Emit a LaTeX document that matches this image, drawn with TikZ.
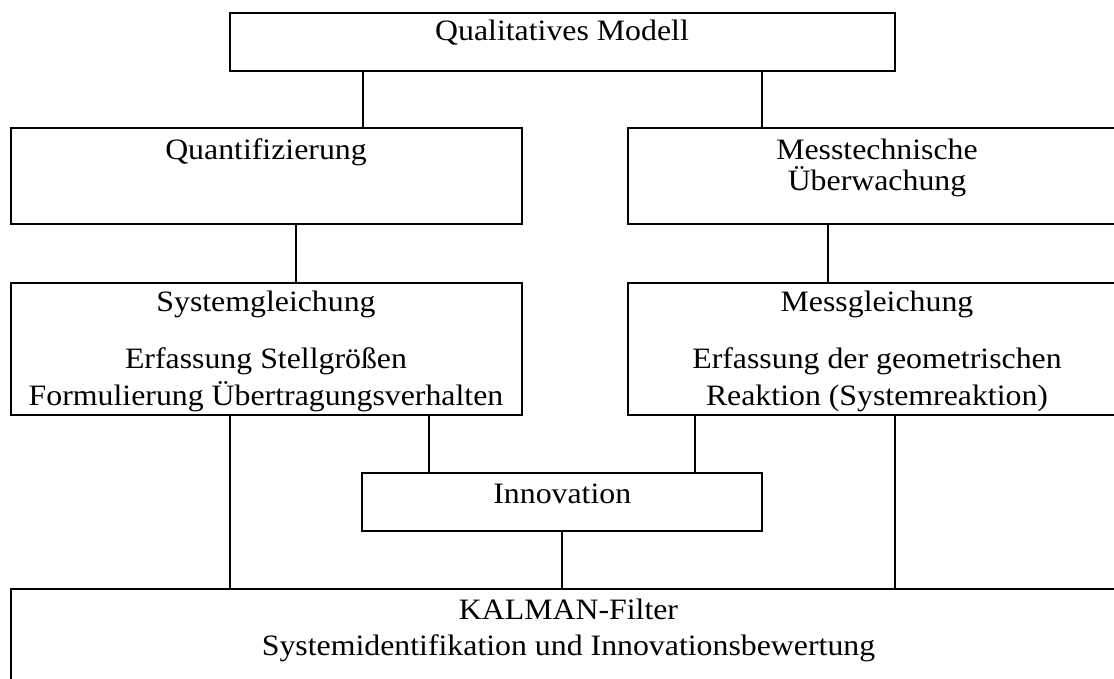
\documentclass[tikz,border=0pt]{standalone}
\usepackage{fontspec}
\setmainfont{Liberation Serif}[FakeStretch=1.075]
\begin{document}
\begin{tikzpicture}[x=1pt,y=-1pt,
  box/.style={draw, line width=2pt, rectangle, inner sep=0pt, outer sep=0pt},
  link/.style={line width=1.8pt},
  txt/.style={anchor=base, inner sep=0pt, font=\fontsize{29.6}{35}\selectfont}]
\useasboundingbox (0,0) rectangle (1114,679);
\clip (0,0) rectangle (1114,679);

% boxes given by their corners
\newcommand{\mkbox}[5]{\node[box, minimum width={#4-#2}, minimum height={#5-#3}] (#1) at ({(#2+#4)/2},{(#3+#5)/2}) {};}
\mkbox{qual}{230.2}{12.7}{894.5}{70.7}
\mkbox{quant}{10.7}{128.3}{522.2}{224}
\mkbox{mtech}{628}{128.3}{1140}{224}
\mkbox{sysg}{10.7}{282.7}{522.2}{414.7}
\mkbox{messg}{628}{282.7}{1140}{414.7}
\mkbox{innov}{361.6}{472.7}{762}{530.7}
\mkbox{kalman}{10.7}{588.7}{1140}{720}

% texts
\node[txt] (tqual) at (562,40.7) {Qualitatives Modell};
\node[txt] (tquant) at (266,160) {Quantifizierung};
\node[txt] (tmt1) at (877,159.3) {Messtechnische};
\node[txt] (tmt2) at (877,190.7) {Überwachung};
\node[txt] (tsg1) at (266,311) {Systemgleichung};
\node[txt] (tsg2) at (266,368) {Erfassung Stellgrößen};
\node[txt] (tsg3) at (266,405.5) {Formulierung Übertragungsverhalten};
\node[txt] (tmg1) at (877,311) {Messgleichung};
\node[txt] (tmg2) at (877,368) {Erfassung der geometrischen};
\node[txt] (tmg3) at (877,405.5) {Reaktion (Systemreaktion)};
\node[txt] (tinn) at (562.3,503.3) {Innovation};
\node[txt] (tk1) at (568.5,619) {KALMAN-Filter};
\node[txt] (tk2) at (568.5,655) {Systemidentifikation und Innovationsbewertung};

% connectors
\draw[link] (363,0 |- qual.south) -- (363,0 |- quant.north);
\draw[link] (762,0 |- qual.south) -- (762,0 |- mtech.north);
\draw[link] (295.6,0 |- quant.south) -- (295.6,0 |- sysg.north);
\draw[link] (828,0 |- mtech.south) -- (828,0 |- messg.north);
\draw[link] (230.2,0 |- sysg.south) -- (230.2,0 |- kalman.north);
\draw[link] (429,0 |- sysg.south) -- (429,0 |- innov.north);
\draw[link] (695,0 |- messg.south) -- (695,0 |- innov.north);
\draw[link] (561.6,0 |- innov.south) -- (561.6,0 |- kalman.north);
\draw[link] (894.8,0 |- messg.south) -- (894.8,0 |- kalman.north);
\end{tikzpicture}
\end{document}
